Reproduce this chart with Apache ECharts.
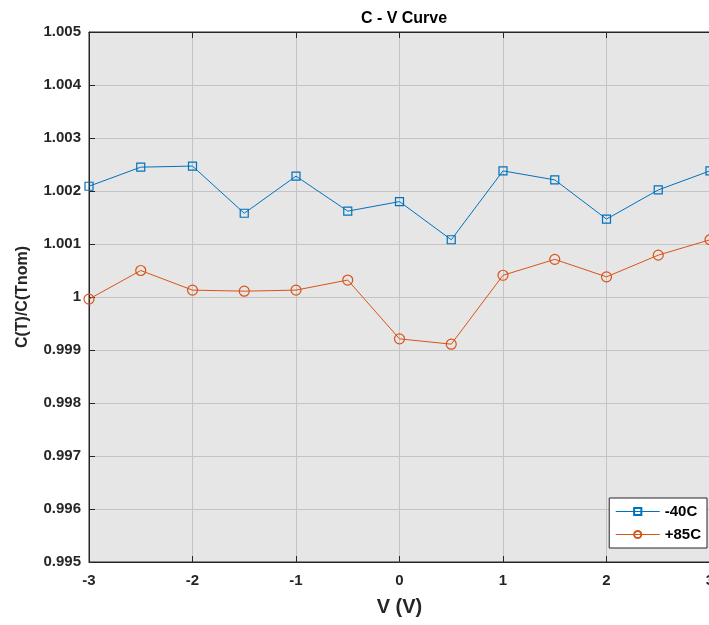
<!DOCTYPE html>
<html>
  <head>
    <meta charset="UTF-8" />
    <title>C - V Curve</title>
    <script src="https://cdn.jsdelivr.net/npm/echarts@6.0.0/dist/echarts.min.js"></script>
    <style>
      html, body { margin: 0; padding: 0; overflow: hidden; background: #fff; }
    </style>
  </head>
  <body>
    <div id="cvChart" style="width: 709px; height: 625px"></div>
  </body>
  <script>
    // voltage points and measured capacitance ratios
    const volts = [-3, -2.5, -2, -1.5, -1, -0.5, 0, 0.5, 1, 1.5, 2, 2.5, 3];
    const minus40 = [1.00209, 1.00245, 1.00247, 1.00158, 1.00228, 1.00162, 1.00180, 1.00108, 1.00238, 1.00221, 1.00147, 1.00202, 1.00238];
    const plus85 = [0.99996, 1.00050, 1.00013, 1.00011, 1.00013, 1.00032, 0.99921, 0.99911, 1.00041, 1.00071, 1.00038, 1.00079, 1.00108];

    const font = 'Liberation Sans';
    const axisDark = '#262626';

    let myChart = echarts.init(document.getElementById('cvChart'));

    myChart.setOption({
      animation: false,
      title: {
        text: 'C - V Curve',
        left: 399,
        textAlign: 'center',
        top: 6,
        textStyle: { fontFamily: font, fontSize: 16, fontWeight: 'bold', color: '#000' }
      },
      grid: {
        left: 89, right: -1, top: 32, bottom: 63,
        outerBoundsMode: 'none',
        containLabel: false,
        show: true,
        backgroundColor: '#e6e6e6',
        borderColor: axisDark,
        borderWidth: 1
      },
      legend: {
        orient: 'vertical',
        right: 2,
        bottom: 77,
        backgroundColor: '#fff',
        borderColor: axisDark,
        borderWidth: 1,
        borderRadius: 0,
        padding: [6, 6, 6, 6],
        itemWidth: 44,
        itemHeight: 9,
        itemGap: 8,
        lineStyle: { width: 1 },
        textStyle: { fontFamily: font, fontSize: 15, fontWeight: 'bold', color: '#000' },
        data: ['-40C', '+85C']
      },
      xAxis: [
        {
          type: 'value',
          min: -3, max: 3, interval: 1,
          name: 'V (V)',
          nameLocation: 'middle',
          nameGap: 35,
          nameTextStyle: { fontFamily: font, fontSize: 20, fontWeight: 'bold', color: '#262626' },
          axisLine: { show: true, onZero: false, lineStyle: { color: axisDark } },
          axisTick: { show: true, inside: true, length: 6, lineStyle: { color: axisDark } },
          axisLabel: { margin: 11, fontFamily: font, fontSize: 15, fontWeight: 'bold', color: '#262626' },
          splitLine: { show: true, lineStyle: { color: '#c4c4c4', width: 1 } }
        },
        {
          type: 'value',
          position: 'top',
          min: -3, max: 3, interval: 1,
          axisLine: { show: true, lineStyle: { color: axisDark } },
          axisTick: { show: true, inside: true, length: 6, lineStyle: { color: axisDark } },
          axisLabel: { show: false },
          splitLine: { show: false }
        }
      ],
      yAxis: [
        {
          type: 'value',
          min: 0.995, max: 1.005, interval: 0.001,
          name: 'C(T)/C(Tnom)',
          nameLocation: 'middle',
          nameGap: 58,
          nameTextStyle: { fontFamily: font, fontSize: 16, fontWeight: 'bold', color: '#262626' },
          axisLine: { show: true, onZero: false, lineStyle: { color: axisDark } },
          axisTick: { show: true, inside: true, length: 6, lineStyle: { color: axisDark } },
          axisLabel: {
            margin: 8, fontFamily: font, fontSize: 15, fontWeight: 'bold', color: '#262626',
            formatter: v => String(+v.toFixed(3))
          },
          splitLine: { show: true, lineStyle: { color: '#c4c4c4', width: 1 } }
        }
      ],
      series: [
        {
          name: '-40C',
          type: 'line',
          data: volts.map((v, i) => [v, minus40[i]]),
          symbol: 'rect',
          symbolSize: 8,
          lineStyle: { color: '#0072BD', width: 1 },
          itemStyle: { color: 'none', borderColor: '#0072BD', borderWidth: 1.2 }
        },
        {
          name: '+85C',
          type: 'line',
          data: volts.map((v, i) => [v, plus85[i]]),
          symbol: 'circle',
          symbolSize: 10,
          lineStyle: { color: '#D95319', width: 1 },
          itemStyle: { color: 'none', borderColor: '#D95319', borderWidth: 1.2 }
        }
      ]
    });
  </script>
</html>
